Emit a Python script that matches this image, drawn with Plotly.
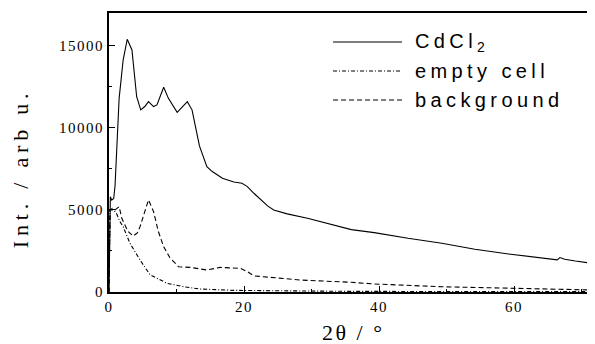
import plotly.graph_objects as go

# ---- data ----
cdcl2_x = [0, 0.1, 0.2, 0.4, 0.7, 0.9, 1.2, 1.5, 2.1, 2.7, 3.4, 4.1, 4.7, 5.3, 5.85, 6.6, 7.1,
           8.1, 8.8, 9.5, 10.1, 10.8, 11.6, 12.3, 13.4, 14.5, 15.3, 16.8, 17.5, 18.5, 19.7, 20.5,
           21.5, 22.5, 23.5, 24.4, 26.4, 29.4, 32.4, 35.9, 39.3, 44.3, 49.3, 54.2, 59.2, 64.1,
           66.4, 66.8, 67.5, 69.1, 70.5, 71.8, 72]
cdcl2_y = [0, 4500, 5800, 5600, 5700, 6500, 9500, 11800, 14150, 15400, 14750, 11900, 11100,
           11300, 11600, 11300, 11400, 12480, 11800, 11300, 10950, 11250, 11600, 11100, 8900,
           7640, 7340, 6930, 6830, 6700, 6630, 6420, 6000, 5610, 5250, 5000, 4760, 4490, 4190,
           3800, 3620, 3270, 2970, 2600, 2320, 2050, 1960, 2100, 2000, 1890, 1800, 1750, 1720]

empty_x = [0, 0.15, 0.64, 1.1, 1.6, 2.1, 3.1, 4.6, 6.1, 8.6, 11.1, 13.5, 18.5, 25, 35, 50, 72]
empty_y = [0, 5000, 5000, 4800, 4300, 3980, 2970, 1950, 1040, 530, 320, 180, 100, 60, 40, 30, 20]

bg_x = [0, 0.15, 0.5, 0.9, 1.5, 1.9, 2.8, 3.6, 4.2, 4.6, 5.3, 5.85, 6.6, 7.3, 8.1, 9.0, 10.3,
        12.05, 14.5, 16.5, 19.5, 20.5, 21.5, 23.5, 28.4, 35.9, 39.3, 49.3, 59.2, 71.8, 72]
bg_y = [0, 5000, 5100, 5000, 5200, 4490, 3700, 3410, 3600, 3980, 4900, 5610, 4900, 3700, 2760,
        2100, 1540, 1500, 1340, 1500, 1440, 1240, 980, 900, 730, 590, 490, 320, 225, 120, 120]

x_ticks = [0, 20, 40, 60]
y_ticks = [0, 5000, 10000, 15000]
series_names = ["CdCl<sub>2</sub>", "empty cell", "background"]

SERIF = "Liberation Serif, Times New Roman, serif"
SANS = "Liberation Sans, Arial, sans-serif"


def spaced(t, px):
    return '<span style="letter-spacing:%spx">%s</span>' % (px, t)


fig = go.Figure()
fig.add_trace(go.Scatter(x=cdcl2_x, y=cdcl2_y, mode="lines", name=series_names[0],
                         line=dict(color="black", width=1.1), showlegend=False))
fig.add_trace(go.Scatter(x=empty_x, y=empty_y, mode="lines", name=series_names[1],
                         line=dict(color="black", width=1.1, dash="4px,2px,1px,2px"),
                         showlegend=False))
fig.add_trace(go.Scatter(x=bg_x, y=bg_y, mode="lines", name=series_names[2],
                         line=dict(color="black", width=1.1, dash="5px,3px"), showlegend=False))

# the page body adds an 8px offset, so the figure is 8px smaller and margins compensate
fig.update_layout(
    width=587, height=336,
    margin=dict(l=101, r=0, t=5, b=52, autoexpand=False),
    paper_bgcolor="white", plot_bgcolor="white",
    font=dict(family=SERIF, color="black", size=15),
    xaxis=dict(range=[0, 72], tickvals=x_ticks, ticktext=[spaced(str(v), 1.5) for v in x_ticks],
               ticks="inside", ticklen=6, tickwidth=1.2, tickcolor="black",
               minor=dict(dtick=10, ticks="inside", ticklen=3, tickcolor="black", tickwidth=1),
               showline=True, linecolor="black", linewidth=2, mirror=True,
               showgrid=False, zeroline=False, tickfont=dict(family=SERIF, size=15)),
    yaxis=dict(range=[0, 17000], tickvals=y_ticks, ticktext=[spaced(str(v), 1.5) for v in y_ticks],
               ticks="inside", ticklen=6, tickwidth=1.2, tickcolor="black",
               minor=dict(dtick=2500, ticks="inside", ticklen=3, tickcolor="black", tickwidth=1),
               showline=True, linecolor="black", linewidth=2, mirror=False,
               showgrid=False, zeroline=False, tickfont=dict(family=SERIF, size=15)),
)

# axis titles
fig.add_annotation(text=spaced("Int. / arb u.", 4.8), xref="paper", yref="paper",
                   x=-0.183, y=0.444, showarrow=False, textangle=-90,
                   font=dict(family=SERIF, size=22), xanchor="center", yanchor="middle")
fig.add_annotation(text=spaced("2θ / °", 2.5), xref="paper", yref="paper",
                   x=0.502, y=-0.145, showarrow=False,
                   font=dict(family=SERIF, size=22), xanchor="center", yanchor="middle")

# legend (drawn manually to match the long key lines)
dashes = ["solid", "4px,2px,1px,2px", "5px,3px"]
rows = [0.896, 0.792, 0.688]
for name, dash, yy in zip(series_names, dashes, rows):
    fig.add_shape(type="line", xref="paper", yref="paper", x0=0.461, x1=0.603, y0=yy, y1=yy,
                  line=dict(color="black", width=1.1, dash=dash))
    fig.add_annotation(text=spaced(name, 4.4), xref="paper", yref="paper", x=0.6255, y=yy,
                       showarrow=False, xanchor="left", yanchor="middle",
                       font=dict(family=SANS, size=20))

fig.write_html("out.html")
